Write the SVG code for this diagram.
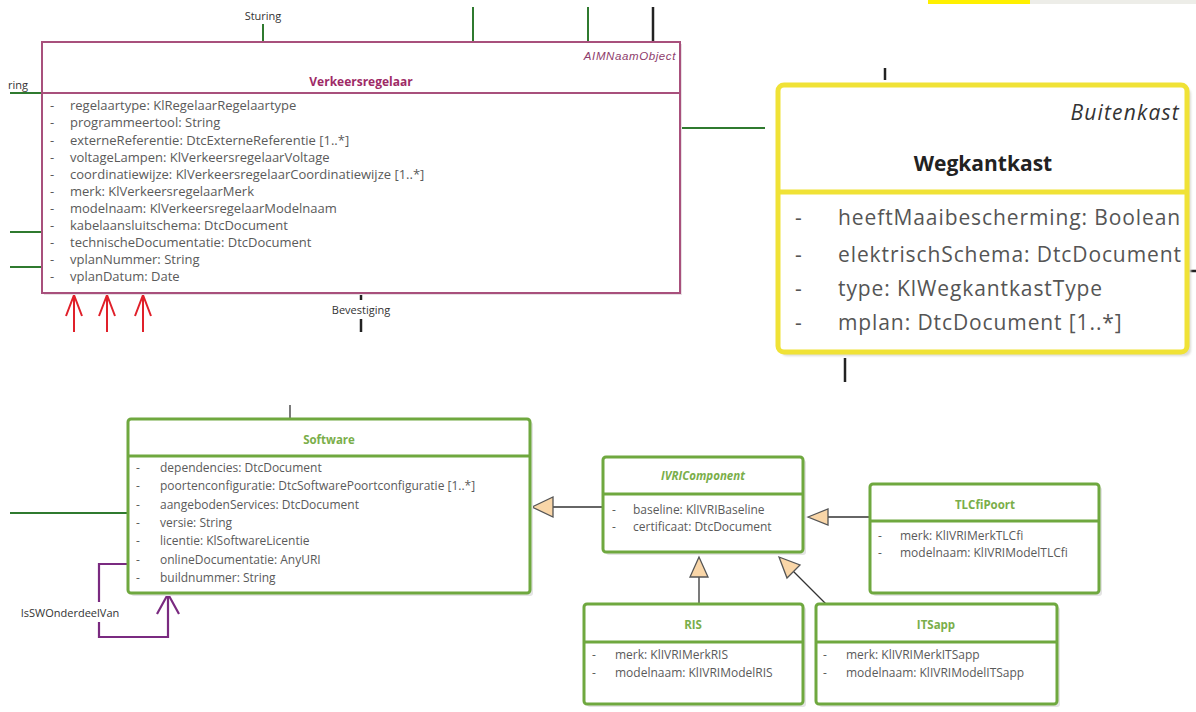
<svg xmlns="http://www.w3.org/2000/svg" width="1196" height="712" viewBox="0 0 1196 712">
  <style>
    .attr { font-family: "Open Sans", "Noto Sans", sans-serif; font-size: 12px; fill: #5a5a5a; }
    .vattr { font-size: 13px; }
    .big { font-family: "Open Sans", "Noto Sans", sans-serif; font-size: 21px; letter-spacing: 0.9px; fill: #555555; }
    .lbl { font-family: "Open Sans", "Noto Sans", sans-serif; font-size: 11px; fill: #333333; }
    .gtitle { font-family: "Open Sans", "Noto Sans", sans-serif; font-size: 11.5px; font-weight: bold; fill: #7AAE4A; text-anchor: middle; }
    .gbox { fill: #ffffff; stroke: #6FA83F; stroke-width: 3; }
    .gline { stroke: #6FA83F; stroke-width: 3; }
    .shadow { fill: #e4e4e4; }
    .green { stroke: #2F7A2F; stroke-width: 2; fill: none; }
    .dark { stroke: #222222; stroke-width: 2.5; fill: none; }
    .thin { stroke: #333333; stroke-width: 1.3; fill: none; }
    .red { stroke: #E0202A; stroke-width: 2; fill: none; }
    .purple { stroke: #7A2A80; stroke-width: 2.2; fill: none; }
    .gen { fill: #F9D6A8; stroke: #555555; stroke-width: 1.3; }
  </style>
  <defs>
    <filter id="soft" x="-5%" y="-5%" width="110%" height="110%">
      <feGaussianBlur stdDeviation="0.8"/>
    </filter>
  </defs>

  <rect width="1196" height="712" fill="#ffffff"/>

  <!-- strip along the top right edge -->
  <rect x="1030" y="0" width="166" height="4" fill="#EDEDE8"/>
  <rect x="928" y="0" width="102" height="4" fill="#FFF000"/>

  <!-- connectors -->
  <g id="connectors">
    <!-- Verkeersregelaar surroundings -->
    <line class="green" x1="263" y1="24" x2="263" y2="42"/>
    <line class="green" x1="473" y1="7" x2="473" y2="42"/>
    <line class="green" x1="588" y1="7" x2="588" y2="42"/>
    <line class="dark" x1="653" y1="7" x2="653" y2="42"/>
    <line class="green" x1="10" y1="93" x2="42" y2="93"/>
    <line class="green" x1="10" y1="232" x2="42" y2="232"/>
    <line class="green" x1="10" y1="267" x2="42" y2="267"/>
    <line class="green" x1="680" y1="128" x2="765" y2="128"/>
    <line class="dark" x1="361" y1="293" x2="361" y2="300"/>
    <line class="dark" x1="361" y1="319" x2="361" y2="332"/>
    <!-- red arrows below Verkeersregelaar -->
    <path class="red" d="M74 332 V295 M66 316 L74 295 L82 316"/>
    <path class="red" d="M107 332 V295 M99 316 L107 295 L115 316"/>
    <path class="red" d="M143 332 V295 M135 316 L143 295 L151 316"/>
    <!-- Wegkantkast ticks -->
    <line class="dark" x1="885" y1="68" x2="885" y2="80" stroke-width="3"/>
    <line class="dark" x1="845" y1="358" x2="845" y2="382" stroke-width="3"/>
    <line class="dark" x1="1188" y1="271" x2="1196" y2="271" stroke-width="3"/>

    <!-- Software surroundings -->
    <line class="thin" x1="290" y1="405" x2="290" y2="419"/>
    <line class="green" x1="10" y1="513" x2="128" y2="513"/>
    <!-- IsSWOnderdeelVan self association -->
    <path class="purple" d="M128 564 H99 V637 H168 V594"/>
    <path class="purple" d="M157 614 L168 594 L179 614"/>

    <!-- generalizations -->
    <line class="thin" x1="553" y1="507" x2="602" y2="507"/>
    <polygon class="gen" points="532,507 553,497 553,517"/>
    <line class="thin" x1="828" y1="517" x2="870" y2="517"/>
    <polygon class="gen" points="808,517 828,509 828,525"/>
    <line class="thin" x1="699" y1="577" x2="699" y2="604"/>
    <polygon class="gen" points="699,557 690,577 708,577"/>
    <line class="thin" x1="793" y1="571" x2="826" y2="604"/>
    <polygon class="gen" points="779,557 787,578 800,565"/>
  </g>

  <!-- Verkeersregelaar -->
  <g id="verkeersregelaar">
    <rect x="44" y="44" width="638" height="251" fill="#e8e0e4"/>
    <rect x="42" y="42" width="638" height="251" fill="#ffffff" stroke="#A8507C" stroke-width="2"/>
    <line x1="42" y1="93" x2="680" y2="93" stroke="#A8507C" stroke-width="2"/>
    <text x="676" y="60" font-family="'Liberation Sans', sans-serif" font-size="11.5" font-style="italic" letter-spacing="0.6" fill="#8E3C6C" text-anchor="end">AIMNaamObject</text>
    <text x="361" y="86" font-family="'Open Sans', sans-serif" font-size="12" font-weight="bold" fill="#9E2A66" text-anchor="middle">Verkeersregelaar</text>
    <g class="attr vattr">
      <text x="50" y="110">-</text><text x="70" y="110">regelaartype: KlRegelaarRegelaartype</text>
      <text x="50" y="127">-</text><text x="70" y="127">programmeertool: String</text>
      <text x="50" y="145">-</text><text x="70" y="145">externeReferentie: DtcExterneReferentie [1..*]</text>
      <text x="50" y="162">-</text><text x="70" y="162">voltageLampen: KlVerkeersregelaarVoltage</text>
      <text x="50" y="179">-</text><text x="70" y="179">coordinatiewijze: KlVerkeersregelaarCoordinatiewijze [1..*]</text>
      <text x="50" y="196">-</text><text x="70" y="196">merk: KlVerkeersregelaarMerk</text>
      <text x="50" y="213">-</text><text x="70" y="213">modelnaam: KlVerkeersregelaarModelnaam</text>
      <text x="50" y="230">-</text><text x="70" y="230">kabelaansluitschema: DtcDocument</text>
      <text x="50" y="247">-</text><text x="70" y="247">technischeDocumentatie: DtcDocument</text>
      <text x="50" y="264">-</text><text x="70" y="264">vplanNummer: String</text>
      <text x="50" y="281">-</text><text x="70" y="281">vplanDatum: Date</text>
    </g>
  </g>

  <!-- association labels -->
  <text class="lbl" x="263" y="20" text-anchor="middle">Sturing</text>
  <text class="lbl" x="28" y="89" text-anchor="end">ring</text>
  <text class="lbl" x="361" y="314" text-anchor="middle">Bevestiging</text>
  <rect x="16" y="602" width="108" height="20" fill="#ffffff"/>
  <text class="lbl" x="70" y="617" text-anchor="middle" font-size="12" fill="#444">IsSWOnderdeelVan</text>

  <!-- Wegkantkast -->
  <g id="wegkantkast">
    <rect x="781" y="88" width="410" height="268" rx="6" fill="#dcdcd6" filter="url(#soft)"/>
    <rect x="778" y="85" width="409" height="267" rx="6" fill="#ffffff" stroke="#F0E236" stroke-width="5"/>
    <line x1="778" y1="192" x2="1187" y2="192" stroke="#F0E236" stroke-width="5"/>
    <text x="1180" y="120" font-family="'Open Sans', sans-serif" font-size="21" font-style="italic" letter-spacing="1.2" fill="#333333" text-anchor="end">Buitenkast</text>
    <text x="983" y="171" font-family="'Open Sans', sans-serif" font-size="21" font-weight="bold" fill="#222222" text-anchor="middle">Wegkantkast</text>
    <g class="big">
      <text x="795" y="225">-</text><text x="838" y="225">heeftMaaibescherming: Boolean</text>
      <text x="795" y="262">-</text><text x="838" y="262">elektrischSchema: DtcDocument</text>
      <text x="795" y="296">-</text><text x="838" y="296">type: KlWegkantkastType</text>
      <text x="795" y="330">-</text><text x="838" y="330">mplan: DtcDocument [1..*]</text>
    </g>
  </g>

  <!-- Software -->
  <g id="software">
    <rect class="shadow" x="131" y="422" width="402" height="174" rx="3"/>
    <rect class="gbox" x="128" y="419" width="402" height="174" rx="3"/>
    <line class="gline" x1="128" y1="456" x2="530" y2="456"/>
    <text class="gtitle" x="329" y="444">Software</text>
    <g class="attr">
      <text x="136" y="472">-</text><text x="160" y="472">dependencies: DtcDocument</text>
      <text x="136" y="490">-</text><text x="160" y="490">poortenconfiguratie: DtcSoftwarePoortconfiguratie [1..*]</text>
      <text x="136" y="509">-</text><text x="160" y="509">aangebodenServices: DtcDocument</text>
      <text x="136" y="527">-</text><text x="160" y="527">versie: String</text>
      <text x="136" y="545">-</text><text x="160" y="545">licentie: KlSoftwareLicentie</text>
      <text x="136" y="564">-</text><text x="160" y="564">onlineDocumentatie: AnyURI</text>
      <text x="136" y="582">-</text><text x="160" y="582">buildnummer: String</text>
    </g>
  </g>

  <!-- IVRIComponent -->
  <g id="ivricomponent">
    <rect class="shadow" x="606" y="460" width="200" height="95" rx="3"/>
    <rect class="gbox" x="603" y="457" width="200" height="95" rx="3"/>
    <line class="gline" x1="603" y1="494" x2="803" y2="494"/>
    <text class="gtitle" x="703" y="480" font-style="italic">IVRIComponent</text>
    <g class="attr">
      <text x="612" y="514">-</text><text x="633" y="514">baseline: KlIVRIBaseline</text>
      <text x="612" y="531">-</text><text x="633" y="531">certificaat: DtcDocument</text>
    </g>
  </g>

  <!-- TLCfiPoort -->
  <g id="tlcfipoort">
    <rect class="shadow" x="873" y="487" width="229" height="109" rx="3"/>
    <rect class="gbox" x="870" y="484" width="229" height="109" rx="3"/>
    <line class="gline" x1="870" y1="521" x2="1099" y2="521"/>
    <text class="gtitle" x="985" y="509">TLCfiPoort</text>
    <g class="attr">
      <text x="878" y="540">-</text><text x="900" y="540">merk: KlIVRIMerkTLCfi</text>
      <text x="878" y="557">-</text><text x="900" y="557">modelnaam: KlIVRIModelTLCfi</text>
    </g>
  </g>

  <!-- RIS -->
  <g id="ris">
    <rect class="shadow" x="587" y="607" width="219" height="100" rx="3"/>
    <rect class="gbox" x="584" y="604" width="219" height="100" rx="3"/>
    <line class="gline" x1="584" y1="642" x2="803" y2="642"/>
    <text class="gtitle" x="693" y="629">RIS</text>
    <g class="attr">
      <text x="592" y="659">-</text><text x="615" y="659">merk: KlIVRIMerkRIS</text>
      <text x="592" y="677">-</text><text x="615" y="677">modelnaam: KlIVRIModelRIS</text>
    </g>
  </g>

  <!-- ITSapp -->
  <g id="itsapp">
    <rect class="shadow" x="819" y="607" width="241" height="100" rx="3"/>
    <rect class="gbox" x="816" y="604" width="241" height="100" rx="3"/>
    <line class="gline" x1="816" y1="642" x2="1057" y2="642"/>
    <text class="gtitle" x="936" y="629">ITSapp</text>
    <g class="attr">
      <text x="823" y="659">-</text><text x="846" y="659">merk: KlIVRIMerkITSapp</text>
      <text x="823" y="677">-</text><text x="846" y="677">modelnaam: KlIVRIModelITSapp</text>
    </g>
  </g>
</svg>
